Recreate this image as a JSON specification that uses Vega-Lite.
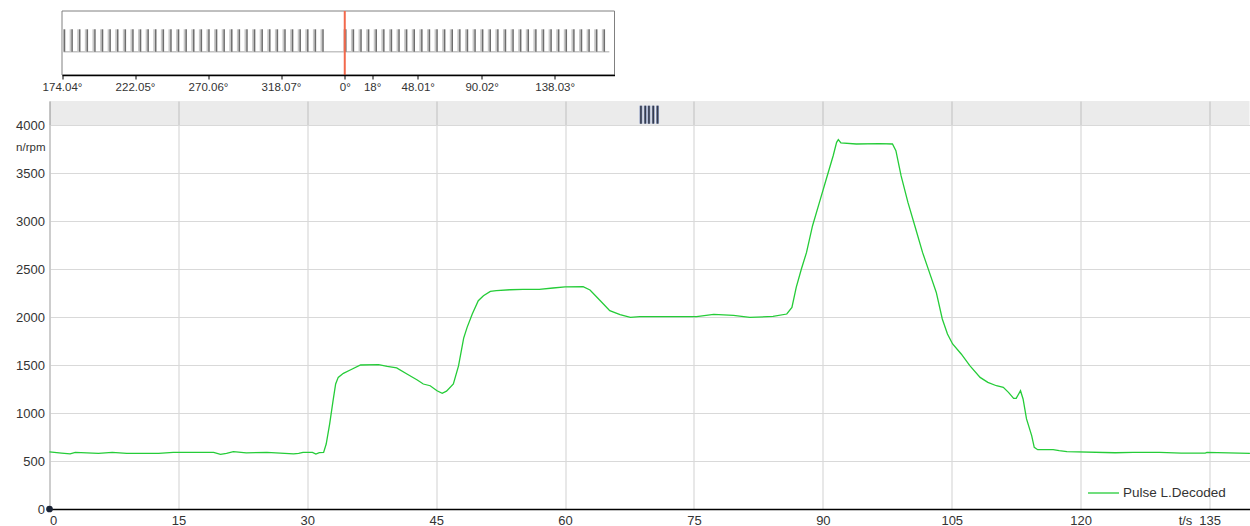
{
  "$schema": "https://vega.github.io/schema/vega-lite/v6.json",
  "background": "white",
  "padding": {"left": 15.5, "top": 10, "right": 0, "bottom": 0},
  "spacing": 26,
  "bounds": "flush",
  "config": {
    "view": {"stroke": null},
    "font": "Liberation Sans",
    "axis": {
      "labelFont": "Liberation Sans",
      "labelColor": "#333333",
      "titleFont": "Liberation Sans",
      "titleColor": "#333333",
      "titleFontWeight": "normal"
    },
    "legend": {"labelFont": "Liberation Sans"}
  },
  "datasets": {
    "rpm": [
      {"t": 0, "rpm": 595}, {"t": 1.4, "rpm": 583}, {"t": 2.4, "rpm": 574}, {"t": 3.0, "rpm": 590},
      {"t": 5.7, "rpm": 580}, {"t": 7.3, "rpm": 590}, {"t": 9.0, "rpm": 580}, {"t": 12.7, "rpm": 580},
      {"t": 14.4, "rpm": 590}, {"t": 19.1, "rpm": 590}, {"t": 19.9, "rpm": 570}, {"t": 20.6, "rpm": 580},
      {"t": 21.4, "rpm": 597}, {"t": 22.9, "rpm": 584}, {"t": 25.3, "rpm": 590}, {"t": 28.4, "rpm": 575},
      {"t": 29.0, "rpm": 580}, {"t": 29.5, "rpm": 590}, {"t": 30.6, "rpm": 590}, {"t": 31.0, "rpm": 572},
      {"t": 31.4, "rpm": 588}, {"t": 31.9, "rpm": 590}, {"t": 32.2, "rpm": 677}, {"t": 32.6, "rpm": 885},
      {"t": 33.0, "rpm": 1128}, {"t": 33.3, "rpm": 1302}, {"t": 33.6, "rpm": 1371}, {"t": 34.2, "rpm": 1413},
      {"t": 35.0, "rpm": 1448}, {"t": 36.2, "rpm": 1500}, {"t": 38.3, "rpm": 1503}, {"t": 39.3, "rpm": 1485},
      {"t": 40.4, "rpm": 1470}, {"t": 41.6, "rpm": 1406}, {"t": 42.8, "rpm": 1344}, {"t": 43.5, "rpm": 1302},
      {"t": 44.3, "rpm": 1284}, {"t": 45.1, "rpm": 1232}, {"t": 45.7, "rpm": 1205}, {"t": 46.2, "rpm": 1228},
      {"t": 47.0, "rpm": 1302}, {"t": 47.6, "rpm": 1490}, {"t": 48.2, "rpm": 1780}, {"t": 48.6, "rpm": 1892},
      {"t": 49.2, "rpm": 2031}, {"t": 49.9, "rpm": 2170}, {"t": 50.5, "rpm": 2222}, {"t": 51.3, "rpm": 2267},
      {"t": 52.0, "rpm": 2274}, {"t": 53.6, "rpm": 2284}, {"t": 55.1, "rpm": 2288}, {"t": 57.0, "rpm": 2288},
      {"t": 58.6, "rpm": 2302}, {"t": 60.0, "rpm": 2314}, {"t": 62.1, "rpm": 2316}, {"t": 62.9, "rpm": 2281},
      {"t": 64.1, "rpm": 2170}, {"t": 65.2, "rpm": 2066}, {"t": 66.4, "rpm": 2024}, {"t": 67.6, "rpm": 1996},
      {"t": 68.7, "rpm": 2004}, {"t": 72.6, "rpm": 2004}, {"t": 75.3, "rpm": 2003}, {"t": 77.3, "rpm": 2027},
      {"t": 79.6, "rpm": 2017}, {"t": 81.5, "rpm": 1996}, {"t": 84.2, "rpm": 2006}, {"t": 85.8, "rpm": 2031},
      {"t": 86.4, "rpm": 2100}, {"t": 86.9, "rpm": 2309}, {"t": 87.5, "rpm": 2500}, {"t": 88.1, "rpm": 2673},
      {"t": 88.8, "rpm": 2951}, {"t": 89.6, "rpm": 3194}, {"t": 90.4, "rpm": 3438}, {"t": 91.2, "rpm": 3680},
      {"t": 91.6, "rpm": 3819}, {"t": 91.8, "rpm": 3847}, {"t": 92.1, "rpm": 3813}, {"t": 93.9, "rpm": 3802},
      {"t": 96.6, "rpm": 3805}, {"t": 98.1, "rpm": 3802}, {"t": 98.5, "rpm": 3732}, {"t": 99.1, "rpm": 3472},
      {"t": 99.9, "rpm": 3194}, {"t": 100.7, "rpm": 2951}, {"t": 101.6, "rpm": 2673}, {"t": 102.4, "rpm": 2465},
      {"t": 103.2, "rpm": 2256}, {"t": 103.9, "rpm": 1979}, {"t": 104.5, "rpm": 1823}, {"t": 105.1, "rpm": 1719},
      {"t": 106.1, "rpm": 1615}, {"t": 107.1, "rpm": 1493}, {"t": 108.3, "rpm": 1371}, {"t": 109.2, "rpm": 1319},
      {"t": 110.2, "rpm": 1284}, {"t": 111.0, "rpm": 1267}, {"t": 111.6, "rpm": 1215}, {"t": 112.2, "rpm": 1152},
      {"t": 112.5, "rpm": 1152}, {"t": 113.0, "rpm": 1232}, {"t": 113.3, "rpm": 1146}, {"t": 113.7, "rpm": 938},
      {"t": 114.3, "rpm": 764}, {"t": 114.6, "rpm": 642}, {"t": 115.0, "rpm": 618}, {"t": 116.8, "rpm": 618},
      {"t": 117.5, "rpm": 607}, {"t": 118.4, "rpm": 597}, {"t": 124.0, "rpm": 586}, {"t": 126.1, "rpm": 590},
      {"t": 129.2, "rpm": 590}, {"t": 131.7, "rpm": 583}, {"t": 134.5, "rpm": 583}, {"t": 134.7, "rpm": 590},
      {"t": 139.7, "rpm": 579}
    ],
    "teeth": [
      {"deg": 175.7}, {"deg": 180.7}, {"deg": 185.7}, {"deg": 190.7}, {"deg": 195.7}, {"deg": 200.7},
      {"deg": 205.7}, {"deg": 210.7}, {"deg": 215.7}, {"deg": 220.7}, {"deg": 225.7}, {"deg": 230.7},
      {"deg": 235.7}, {"deg": 240.7}, {"deg": 245.7}, {"deg": 250.7}, {"deg": 255.7}, {"deg": 260.7},
      {"deg": 265.7}, {"deg": 270.7}, {"deg": 275.7}, {"deg": 280.7}, {"deg": 285.7}, {"deg": 290.7},
      {"deg": 295.7}, {"deg": 300.7}, {"deg": 305.7}, {"deg": 310.7}, {"deg": 315.7}, {"deg": 320.7},
      {"deg": 325.7}, {"deg": 330.7}, {"deg": 335.7}, {"deg": 340.7}, {"deg": 345.7},
      {"deg": 360.7}, {"deg": 365.7}, {"deg": 370.7}, {"deg": 375.7}, {"deg": 380.7}, {"deg": 385.7},
      {"deg": 390.7}, {"deg": 395.7}, {"deg": 400.7}, {"deg": 405.7}, {"deg": 410.7}, {"deg": 415.7},
      {"deg": 420.7}, {"deg": 425.7}, {"deg": 430.7}, {"deg": 435.7}, {"deg": 440.7}, {"deg": 445.7},
      {"deg": 450.7}, {"deg": 455.7}, {"deg": 460.7}, {"deg": 465.7}, {"deg": 470.7}, {"deg": 475.7},
      {"deg": 480.7}, {"deg": 485.7}, {"deg": 490.7}, {"deg": 495.7}, {"deg": 500.7}, {"deg": 505.7},
      {"deg": 510.7}, {"deg": 515.7}, {"deg": 520.7}, {"deg": 525.7}, {"deg": 530.7}
    ],
    "cursor": [
      {"t": 68.83}, {"t": 69.33}, {"t": 69.76}, {"t": 70.26}, {"t": 70.76}
    ],
    "single": [{}]
  },
  "vconcat": [
    {
      "width": 565,
      "height": 64,
      "layer": [
        {
          "data": {"name": "single"},
          "mark": {"type": "rect", "fill": "white", "stroke": "#808080", "strokeWidth": 1},
          "encoding": {
            "x": {
              "datum": 174.04,
              "type": "quantitative",
              "scale": {"domain": [174.04, 537.4], "range": [12.5, 565], "nice": false, "zero": false},
              "axis": {
                "title": null,
                "values": [174.04, 222.05, 270.06, 318.07, 360, 378, 408.01, 450.02, 498.03],
                "labelExpr": "(abs(datum.value % 360 - round(datum.value % 360)) < 0.001 ? format(round(datum.value % 360), 'd') : format(datum.value % 360, '.2f')) + '°'",
                "grid": false,
                "domainColor": "#000000",
                "domainWidth": 1.5,
                "tickColor": "#000000",
                "tickSize": 4,
                "labelFlush": false,
                "labelOverlap": false,
                "labelBound": false,
                "labelFontSize": 11.5,
                "labelPadding": 2,
                "zindex": 1
              }
            },
            "x2": {"datum": 537.4},
            "y": {
              "datum": -1.04,
              "type": "quantitative",
              "scale": {"domain": [-1.04, 1.817], "nice": false, "zero": false},
              "axis": null
            },
            "y2": {"datum": 1.817}
          }
        },
        {
          "data": {"name": "single"},
          "mark": {"type": "rule", "color": "#c4c4c4", "strokeWidth": 1.5},
          "encoding": {
            "x": {"datum": 175, "type": "quantitative"},
            "x2": {"datum": 534},
            "y": {"datum": 0, "type": "quantitative"}
          }
        },
        {
          "data": {"name": "teeth"},
          "mark": {"type": "rule", "color": "#c8c8c8", "strokeWidth": 2, "xOffset": -1.5},
          "encoding": {
            "x": {"field": "deg", "type": "quantitative"},
            "y": {"datum": 0, "type": "quantitative"},
            "y2": {"datum": 1}
          }
        },
        {
          "data": {"name": "teeth"},
          "mark": {"type": "rule", "color": "#6e6e6e", "strokeWidth": 1.5},
          "encoding": {
            "x": {"field": "deg", "type": "quantitative"},
            "y": {"datum": 0, "type": "quantitative"},
            "y2": {"datum": 1}
          }
        },
        {
          "data": {"name": "single"},
          "mark": {"type": "rule", "color": "#f2694c", "strokeWidth": 2},
          "encoding": {
            "x": {"datum": 360, "type": "quantitative"},
            "y": {"datum": -1.04, "type": "quantitative"},
            "y2": {"datum": 1.817}
          }
        }
      ]
    },
    {
      "width": 1200,
      "height": 408,
      "layer": [
        {
          "data": {"name": "single"},
          "mark": {"type": "rect", "fill": "#000000", "opacity": 0.078},
          "encoding": {
            "y": {"datum": 4000, "type": "quantitative", "scale": {"domain": [0, 4250], "nice": false}},
            "y2": {"datum": 4250}
          }
        },
        {
          "data": {"name": "cursor"},
          "mark": {"type": "rule", "color": "#8e9dc4", "strokeWidth": 3},
          "encoding": {
            "x": {"field": "t", "type": "quantitative", "scale": {"domain": [0, 139.65], "nice": false}},
            "y": {"datum": 4014, "type": "quantitative"},
            "y2": {"datum": 4201}
          }
        },
        {
          "data": {"name": "cursor"},
          "mark": {"type": "rule", "color": "#363c4c", "strokeWidth": 1.6},
          "encoding": {
            "x": {"field": "t", "type": "quantitative"},
            "y": {"datum": 4014, "type": "quantitative"},
            "y2": {"datum": 4201}
          }
        },
        {
          "data": {"name": "rpm"},
          "mark": {"type": "line", "strokeWidth": 1.3},
          "encoding": {
            "x": {
              "field": "t",
              "type": "quantitative",
              "scale": {"domain": [0, 139.65], "nice": false},
              "axis": {
                "title": "t/s",
                "titleX": 1135.5,
                "titleY": 5,
                "titleAlign": "center",
                "titleBaseline": "top",
                "titleFontSize": 13,
                "values": [0, 15, 30, 45, 60, 75, 90, 105, 120, 135],
                "format": "d",
                "grid": true,
                "gridColor": "#d9d9d9",
                "gridWidth": 1.2,
                "domainColor": "#000000",
                "domainWidth": 1.5,
                "ticks": false,
                "labelPadding": 5,
                "labelFontSize": 13
              }
            },
            "y": {
              "field": "rpm",
              "type": "quantitative",
              "scale": {"domain": [0, 4250], "nice": false},
              "axis": {
                "title": "n/rpm",
                "titleAngle": 0,
                "titleX": -4.5,
                "titleY": 46.7,
                "titleAlign": "right",
                "titleBaseline": "middle",
                "titleFontSize": 11.5,
                "values": [0, 500, 1000, 1500, 2000, 2500, 3000, 3500, 4000],
                "format": "d",
                "grid": true,
                "gridColor": "#d9d9d9",
                "gridWidth": 1.2,
                "domainColor": "#c4c4c4",
                "domainWidth": 1.5,
                "ticks": false,
                "labelPadding": 5,
                "labelFontSize": 13
              }
            },
            "color": {
              "datum": "Pulse L.Decoded",
              "type": "nominal",
              "scale": {"range": ["#25cc38"]},
              "legend": {
                "title": null,
                "orient": "none",
                "legendX": 1037.5,
                "legendY": 465.5,
                "symbolType": "stroke",
                "symbolSize": 961,
                "symbolStrokeWidth": 1.3,
                "labelFontSize": 13.5,
                "labelColor": "#333333",
                "labelOffset": 3,
                "padding": 0
              }
            }
          }
        },
        {
          "data": {"name": "single"},
          "mark": {"type": "point", "filled": true, "color": "#1b2436", "size": 45, "opacity": 1},
          "encoding": {
            "x": {"datum": 0, "type": "quantitative"},
            "y": {"datum": 0, "type": "quantitative"}
          }
        }
      ]
    }
  ]
}
